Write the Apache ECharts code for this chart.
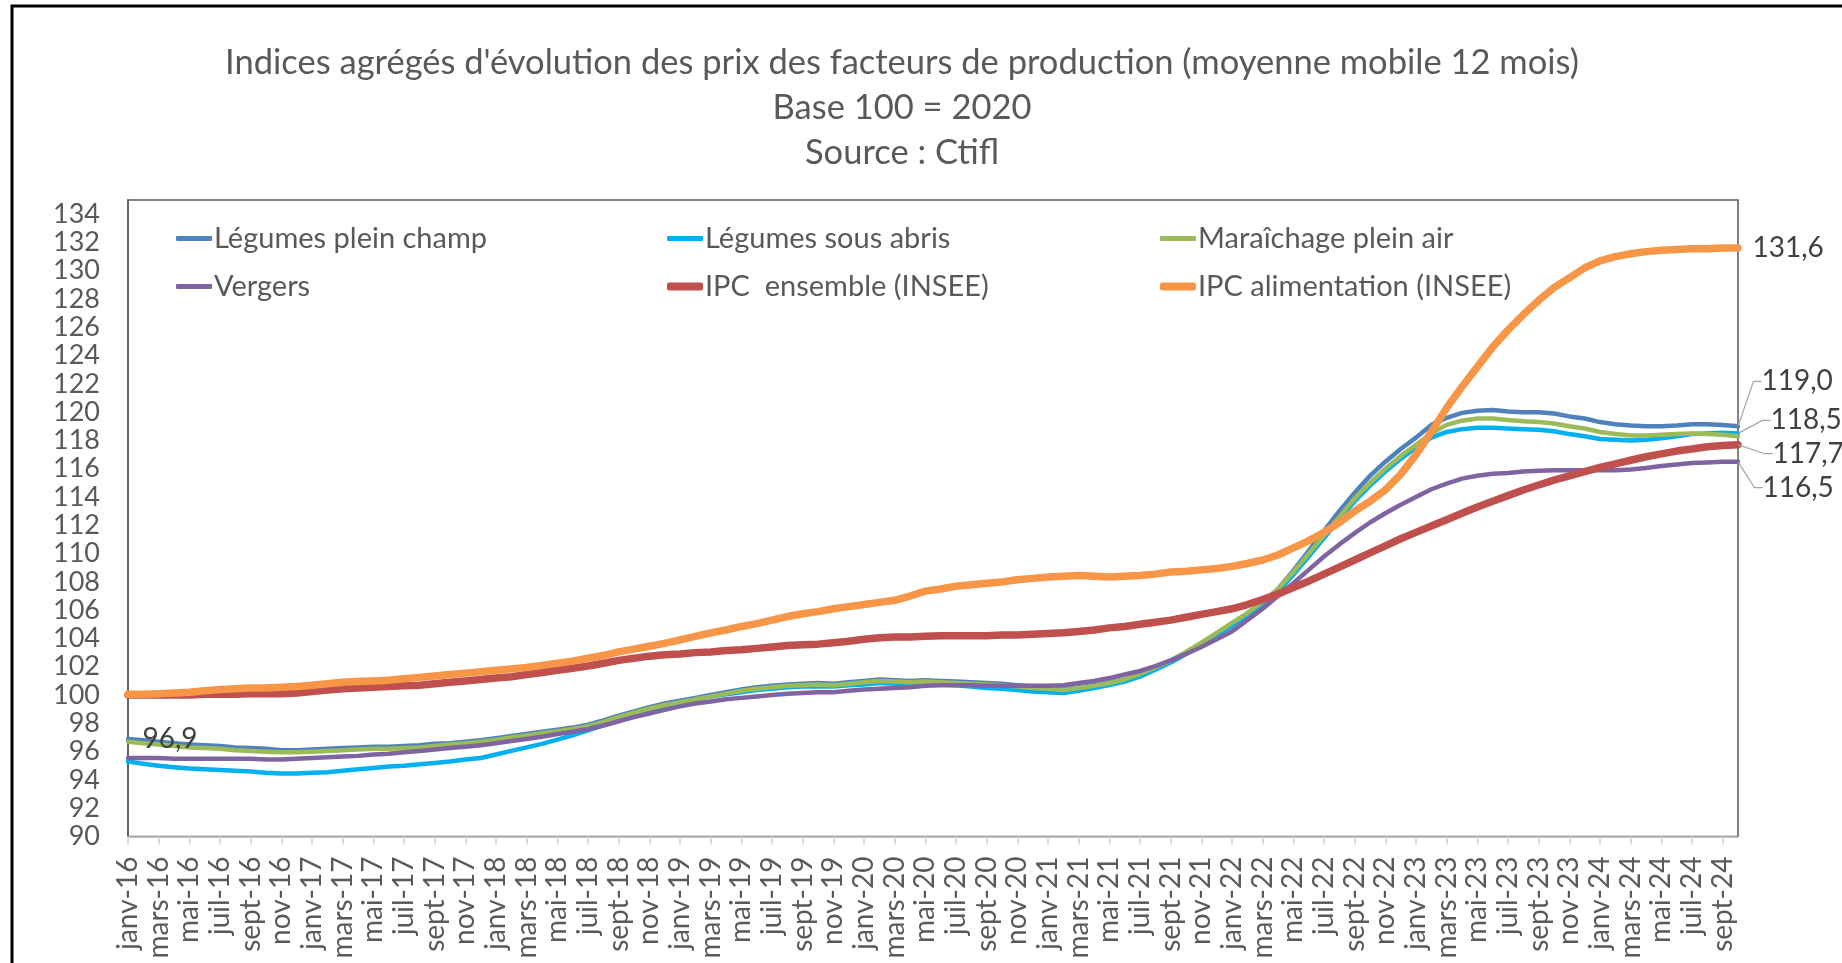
<!DOCTYPE html>
<html><head><meta charset="utf-8">
<script src="https://cdn.jsdelivr.net/npm/echarts@6/dist/echarts.min.js"></script>
<style>html,body{margin:0;padding:0;background:#fff}#c{width:1842px;height:963px}</style>
</head><body><div id="c"></div>
<script>
const monthNames = ['janv','févr','mars','avr','mai','juin','juil','août','sept','oct','nov','déc'];
const years = ['16','17','18','19','20','21','22','23','24'];
const lastMonthOfLastYear = 9; // oct-24
const categories = [];
years.forEach((y, yi) => monthNames.forEach((m, mi) => {
  if (yi < years.length - 1 || mi <= lastMonthOfLastYear) categories.push(m + '-' + y);
}));

const seriesNames = ['Légumes plein champ','Légumes sous abris','Maraîchage plein air','Vergers','IPC  ensemble (INSEE)','IPC alimentation (INSEE)'];
const seriesColors = ['#4F81BD','#00B0F0','#9BBB59','#8064A2','#C0504D','#F79646'];

const legumesPleinChamp = [
 96.9,96.8,96.7,96.6,96.5,96.45,96.4,96.3,96.25,96.2,96.1,96.1,
 96.15,96.2,96.25,96.3,96.35,96.35,96.4,96.45,96.55,96.6,96.7,96.8,
 96.95,97.1,97.25,97.4,97.55,97.7,97.9,98.2,98.55,98.85,99.15,99.4,
 99.6,99.8,100.0,100.2,100.4,100.55,100.65,100.75,100.8,100.85,100.8,100.9,
 101.0,101.1,101.05,101.0,101.05,101.0,100.95,100.9,100.85,100.8,100.7,100.6,
 100.5,100.4,100.55,100.7,100.9,101.1,101.5,101.95,102.4,103.0,103.6,104.3,
 105.0,105.7,106.5,107.5,108.8,110.2,111.6,113.0,114.3,115.5,116.5,117.4,
 118.2,119.1,119.6,119.95,120.1,120.15,120.05,120.0,120.0,119.9,119.7,119.55,
 119.3,119.15,119.05,119.0,119.0,119.05,119.15,119.15,119.1,119.0];
const legumesSousAbris = [
 95.3,95.15,95.0,94.9,94.8,94.75,94.7,94.65,94.6,94.5,94.45,94.45,
 94.5,94.55,94.65,94.75,94.85,94.95,95.0,95.1,95.2,95.3,95.45,95.55,
 95.8,96.05,96.3,96.55,96.85,97.15,97.5,97.85,98.2,98.55,98.9,99.2,
 99.5,99.7,99.9,100.05,100.2,100.35,100.45,100.55,100.6,100.6,100.6,100.7,
 100.75,100.85,100.8,100.8,100.8,100.75,100.7,100.6,100.5,100.45,100.35,100.25,
 100.2,100.15,100.3,100.5,100.7,100.95,101.3,101.8,102.3,102.9,103.5,104.2,
 104.9,105.6,106.4,107.3,108.5,109.8,111.1,112.4,113.7,114.8,115.8,116.7,
 117.5,118.2,118.6,118.8,118.9,118.9,118.85,118.8,118.75,118.65,118.45,118.3,
 118.1,118.05,118.0,118.05,118.15,118.3,118.45,118.5,118.55,118.5];
const maraichagePleinAir = [
 96.7,96.6,96.5,96.4,96.3,96.25,96.2,96.1,96.05,96.0,95.95,95.95,
 96.0,96.05,96.1,96.15,96.2,96.2,96.25,96.3,96.4,96.5,96.6,96.7,
 96.85,97.0,97.15,97.3,97.45,97.6,97.8,98.1,98.45,98.75,99.05,99.3,
 99.5,99.7,99.9,100.1,100.3,100.45,100.55,100.65,100.7,100.75,100.7,100.8,
 100.9,101.0,100.95,100.9,100.95,100.9,100.85,100.8,100.75,100.7,100.6,100.5,
 100.45,100.35,100.5,100.65,100.85,101.1,101.5,101.95,102.45,103.05,103.7,104.4,
 105.1,105.8,106.6,107.5,108.7,110.0,111.3,112.6,113.9,115.0,116.0,116.9,
 117.7,118.5,119.1,119.4,119.55,119.55,119.45,119.35,119.3,119.2,119.0,118.85,
 118.6,118.45,118.35,118.35,118.4,118.45,118.5,118.45,118.4,118.3];
const vergers = [
 95.55,95.55,95.55,95.5,95.5,95.5,95.5,95.5,95.5,95.45,95.45,95.5,
 95.55,95.6,95.65,95.7,95.8,95.85,95.95,96.05,96.15,96.25,96.35,96.45,
 96.6,96.75,96.9,97.05,97.25,97.4,97.6,97.85,98.15,98.45,98.7,98.95,
 99.2,99.4,99.55,99.7,99.8,99.9,100.0,100.1,100.15,100.2,100.2,100.3,
 100.4,100.45,100.5,100.55,100.65,100.7,100.7,100.7,100.65,100.65,100.65,100.65,
 100.65,100.7,100.85,101.0,101.2,101.45,101.7,102.05,102.45,102.9,103.4,103.95,
 104.5,105.3,106.1,107.0,107.9,108.85,109.8,110.65,111.45,112.2,112.85,113.45,
 114.0,114.55,114.95,115.3,115.5,115.65,115.7,115.8,115.85,115.9,115.9,115.9,
 115.9,115.9,115.95,116.05,116.2,116.3,116.4,116.45,116.5,116.5];
const ipcEnsemble = [
 100.0,100.0,100.0,100.0,100.0,100.05,100.05,100.05,100.1,100.1,100.1,100.15,
 100.25,100.35,100.45,100.5,100.55,100.6,100.65,100.7,100.8,100.9,101.0,101.1,
 101.2,101.3,101.45,101.6,101.75,101.9,102.05,102.25,102.45,102.6,102.75,102.85,
 102.9,103.0,103.05,103.15,103.2,103.3,103.4,103.5,103.55,103.6,103.7,103.8,
 103.95,104.05,104.1,104.1,104.15,104.2,104.2,104.2,104.2,104.25,104.25,104.3,
 104.35,104.4,104.5,104.6,104.75,104.85,105.0,105.15,105.3,105.5,105.7,105.9,
 106.1,106.4,106.75,107.15,107.6,108.05,108.55,109.05,109.55,110.05,110.55,111.05,
 111.5,111.95,112.4,112.85,113.3,113.7,114.1,114.5,114.85,115.2,115.5,115.8,
 116.1,116.35,116.6,116.85,117.05,117.25,117.4,117.55,117.65,117.7];
const ipcAlimentation = [
 100.05,100.05,100.1,100.15,100.2,100.3,100.4,100.45,100.5,100.5,100.55,100.6,
 100.7,100.8,100.9,100.95,101.0,101.05,101.15,101.25,101.35,101.45,101.55,101.65,
 101.75,101.85,101.95,102.1,102.25,102.4,102.6,102.8,103.05,103.25,103.45,103.65,
 103.9,104.15,104.4,104.6,104.85,105.05,105.3,105.55,105.75,105.9,106.1,106.25,
 106.4,106.55,106.7,107.0,107.35,107.5,107.7,107.8,107.9,108.0,108.15,108.25,
 108.35,108.4,108.45,108.4,108.35,108.4,108.45,108.55,108.7,108.75,108.85,108.95,
 109.1,109.3,109.55,109.9,110.4,110.9,111.5,112.2,113.0,113.7,114.5,115.6,
 117.0,118.6,120.3,121.8,123.2,124.6,125.8,126.9,127.9,128.8,129.5,130.2,
 130.7,131.0,131.2,131.35,131.45,131.5,131.55,131.55,131.6,131.6];

const seriesData = [legumesPleinChamp, legumesSousAbris, maraichagePleinAir, vergers, ipcEnsemble, ipcAlimentation];
const seriesWidths = [4.5, 4.5, 4.5, 4.5, 7.5, 7.5];

const yTicks = {min: 90, max: 135, interval: 2};

const FONT = 'Lato';
const LABEL_SIZE = 28;
const fmt = v => v.toFixed(1).replace('.', ',');
const last = categories.length - 1;

// labelled points of the end of the series (with guide lines)
const labelled = {
  0: [{index: last, dist: 5, dx: 12, dy: -45, line: true}],
  1: [{index: last, dist: 5, dx: 21, dy: -13, line: true}],
  3: [{index: last, dist: 5, dx: 13, dy: 26, line: true}],
  4: [{index: last, dist: 5, dx: 23, dy: 9, line: true}],
  5: [{index: last, dist: 14, dx: 0, dy: 0, line: false}]
};

function labelItem(v, m) {
  return {
    value: v, symbol: 'circle', symbolSize: 1,
    itemStyle: {color: 'rgba(0,0,0,0)'},
    label: {show: true, position: 'right', distance: m.dist, formatter: p => fmt(p.value),
      fontFamily: FONT, fontSize: LABEL_SIZE, color: '#404040', padding: m.line ? [0, 0, 0, 6] : 0},
    labelLine: {show: m.line, length2: 8, lineStyle: {color: '#a6a6a6', width: 1.2}}
  };
}

const series = seriesNames.map((name, si) => {
  const marks = labelled[si] || [];
  const data = seriesData[si].map((v, i) => {
    const m = marks.find(o => o.index === i);
    return m ? labelItem(v, m) : v;
  });
  return {
    name, type: 'line', data, symbol: 'none', showAllSymbol: true, smooth: false,
    z: 2 + si,
    lineStyle: {color: seriesColors[si], width: seriesWidths[si], cap: 'round', join: 'round'},
    itemStyle: {color: seriesColors[si]},
    emphasis: {disabled: true},
    labelLayout: p => {
      const m = marks.find(o => o.index === p.dataIndex);
      return m ? {dx: m.dx, dy: m.dy} : {};
    }
  };
});

// start label "96,9" of Légumes plein champ, drawn above all lines
series.push({
  name: 'start-label', type: 'line', z: 20, symbol: 'none', showAllSymbol: true,
  lineStyle: {width: 0, opacity: 0}, emphasis: {disabled: true}, silent: true,
  data: legumesPleinChamp.map((v, i) => i === 0 ? labelItem(v, {dist: 14, line: false}) : null)
});

const legendPos = [[176, 224], [667, 224], [1160, 224], [176, 272], [667, 272], [1160, 272]];
const legends = seriesNames.map((name, i) => ({
  data: [{name, icon: 'roundRect'}], left: legendPos[i][0], top: legendPos[i][1],
  itemWidth: 36, itemHeight: seriesWidths[i] + 0.5, itemGap: 0, padding: 0, selectedMode: false,
  textStyle: {fontFamily: FONT, fontSize: 29, color: '#595959', padding: [0, 0, 0, -3]}
}));

const chart = echarts.init(document.getElementById('c'), null, {renderer: 'canvas'});
chart.setOption({
  animation: false,
  backgroundColor: '#ffffff',
  title: {
    text: 'Indices agrégés d\'évolution des prix des facteurs de production (moyenne mobile 12 mois)\nBase 100 = 2020\nSource : Ctifl',
    left: 897, top: 35, textAlign: 'center',
    textStyle: {fontFamily: FONT, fontSize: 34.5, fontWeight: 'normal', color: '#595959', lineHeight: 45}
  },
  graphic: [{type: 'rect', shape: {x: 12, y: 6, width: 1900, height: 1000}, silent: true,
    style: {fill: 'none', stroke: '#000', lineWidth: 3}, z: 100}],
  legend: legends,
  grid: {left: 128, right: 104, top: 200, bottom: 126.5, show: true, borderColor: '#595959', borderWidth: 1.5, backgroundColor: 'transparent'},
  xAxis: {
    type: 'category', data: categories, boundaryGap: false,
    axisLine: {lineStyle: {color: '#bfbfbf', width: 1.5}},
    axisTick: {interval: 1, length: 8, lineStyle: {color: '#d0d0d0', width: 1.5}},
    axisLabel: {interval: 1, rotate: 90, margin: 20, fontFamily: FONT, fontSize: 28, color: '#595959'},
    splitLine: {show: false}
  },
  yAxis: {
    type: 'value', min: yTicks.min, max: yTicks.max, interval: yTicks.interval,
    axisLine: {show: true, lineStyle: {color: '#595959', width: 1.5}},
    axisTick: {show: false}, splitLine: {show: false},
    axisLabel: {showMaxLabel: false, margin: 28, fontFamily: FONT, fontSize: 27, color: '#595959'}
  },
  series
});
</script></body></html>
